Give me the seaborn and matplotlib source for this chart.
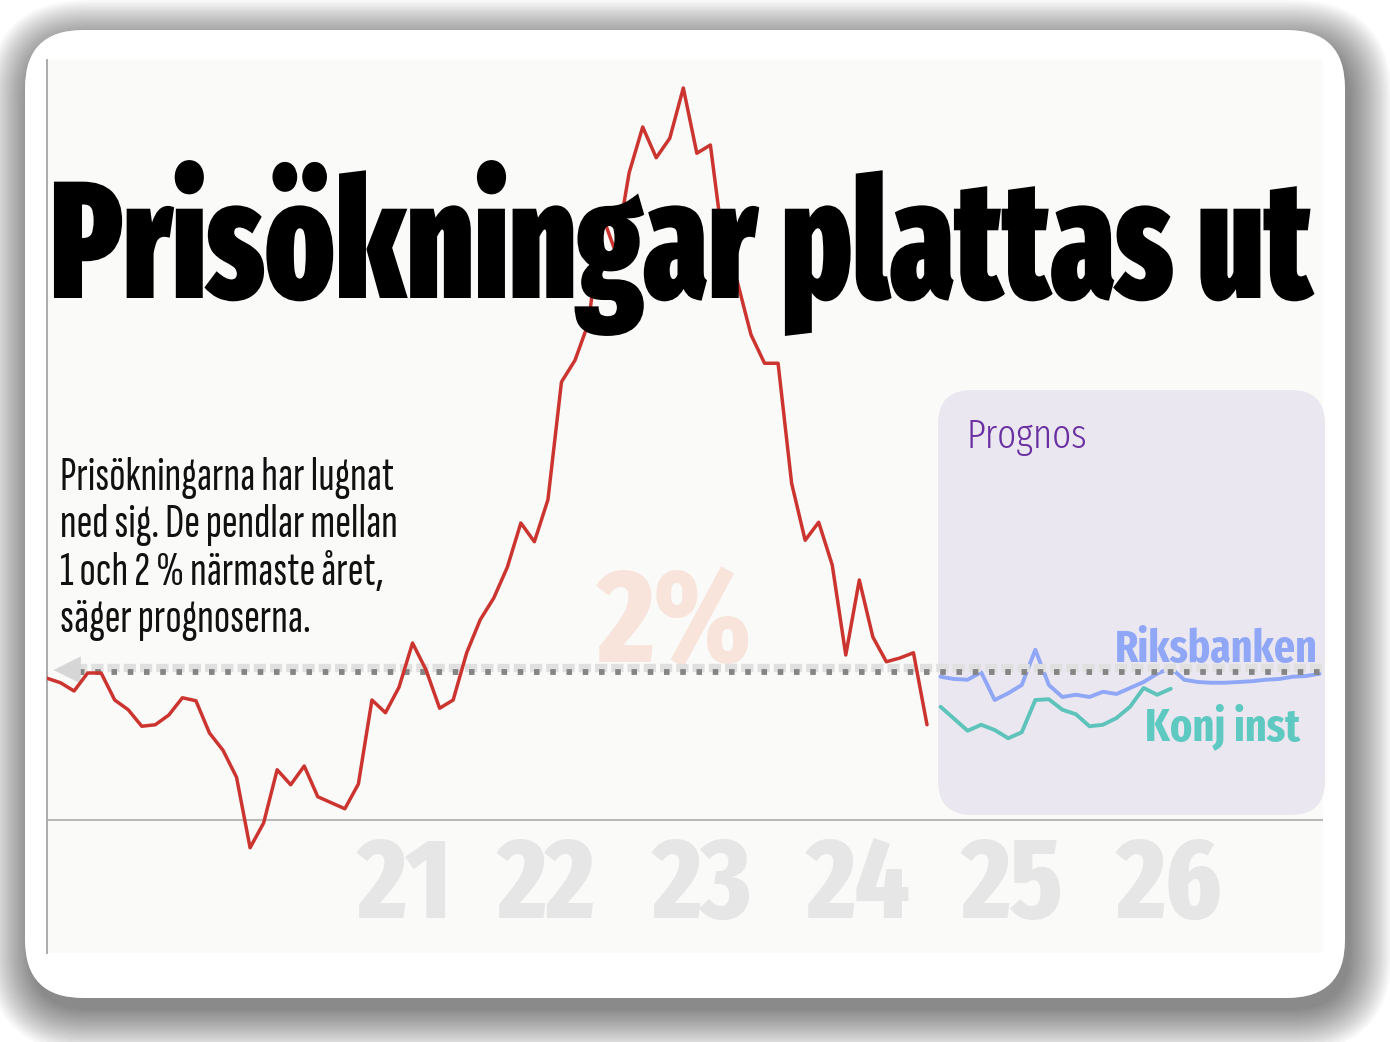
import matplotlib
matplotlib.use("Agg")
import matplotlib.pyplot as plt
import matplotlib.transforms as mtransforms
import pandas as pd
import seaborn as sns
from matplotlib.patches import FancyBboxPatch
from matplotlib.patheffects import AbstractPathEffect

# KPIF-style inflation, monthly, %
inflation = [
    1.89, 1.83, 1.72, 1.96, 1.96, 1.60, 1.47, 1.25, 1.27, 1.40, 1.63, 1.59,
    1.16, 0.93, 0.57, -0.37, -0.04, 0.67, 0.47, 0.72, 0.31, 0.23, 0.15, 0.48,
    1.60, 1.43, 1.77, 2.36, 2.00, 1.49, 1.60, 2.23, 2.67, 2.96, 3.37, 3.96,
    3.71, 4.27, 5.84, 6.13, 6.63, 8.07, 7.57, 8.63, 9.24, 8.83, 9.09, 9.76,
    8.89, 9.00, 7.60, 7.17, 6.47, 6.09, 6.09, 4.49, 3.73, 3.97, 3.40, 2.20,
    3.20, 2.44, 2.11, 2.16, 2.23, 1.27,
]
riksbanken = [
    1.91, 1.88, 1.87, 1.97, 1.60, 1.69, 1.80, 2.27, 1.80, 1.64, 1.67, 1.64,
    1.71, 1.68, 1.76, 1.84, 1.95, 2.03, 1.87, 1.84, 1.83, 1.83, 1.84, 1.85,
    1.87, 1.88, 1.91, 1.92, 1.95,
]
konj_inst = [
    1.51, 1.35, 1.19, 1.27, 1.20, 1.09, 1.17, 1.60, 1.61, 1.47, 1.41, 1.25,
    1.27, 1.36, 1.51, 1.76, 1.67, 1.75,
]
forecast_start = len(inflation)
target = 2.0

year_labels = ["21", "22", "23", "24", "25", "26"]
year_positions = [26.4, 36.9, 48.4, 59.9, 71.3, 82.9]

title = "Prisökningar plattas ut"
body_lines = [
    "Prisökningarna har lugnat",
    "ned sig. De pendlar mellan",
    "1 och 2 % närmaste året,",
    "säger prognoserna.",
]

W, H, DPI = 1390, 1042, 100

sns.set_theme(style="white")
plt.rcParams["lines.scale_dashes"] = False
plt.rcParams["font.family"] = ["Fira Sans Extra Condensed", "DejaVu Sans"]

TITLE_FONT = ["Fira Sans Extra Condensed", "DejaVu Sans"]
BODY_FONT = ["Sofia Sans Extra Condensed", "Fira Sans Extra Condensed", "DejaVu Sans"]


class TallText(AbstractPathEffect):
    """Stretch glyphs vertically around a baseline (given in display pixels)."""

    def __init__(self, factor, baseline):
        super().__init__()
        self.factor = factor
        self.baseline = baseline

    def draw_path(self, renderer, gc, tpath, affine, rgbFace=None):
        stretch = (mtransforms.Affine2D().translate(0, -self.baseline)
                   .scale(1, self.factor).translate(0, self.baseline))
        renderer.draw_path(gc, tpath, affine + stretch, rgbFace)


fig = plt.figure(figsize=(W / DPI, H / DPI), dpi=DPI, facecolor="white")
inch = fig.dpi_scale_trans


def px(x, y):
    # pixel position from the top-left corner -> inches from bottom-left
    return x / DPI, (H - y) / DPI


def rounded(x0, y0, x1, y1, radius, **kw):
    left, bottom = px(x0, y1)
    return FancyBboxPatch(
        (left, bottom), (x1 - x0) / DPI, (y1 - y0) / DPI,
        boxstyle=f"round,pad=0,rounding_size={radius / DPI}",
        transform=inch, **kw,
    )


# card with soft drop shadow, heavier towards the bottom right
for k in range(20):
    grow = 2.2 * k
    fig.add_artist(rounded(25 + 5 - grow, 30 + 12 - grow, 1345 + 5 + grow, 998 + 12 + grow,
                           58 + grow, facecolor="black", edgecolor="none",
                           alpha=0.026, zorder=-5))
fig.add_artist(rounded(25, 30, 1345, 998, 58, facecolor="white", edgecolor="none", zorder=-4))

px_per_month = 880 / 65
ax = fig.add_axes([47 / W, 1 - 953 / H, 1276 / W, 893 / H])
ax.set_facecolor("#fafaf9")
ax.set_xlim(0, 1276 / px_per_month)
ax.set_ylim((820 - 953) / 75, (820 - 60) / 75)
for side in ("top", "right", "bottom"):
    ax.spines[side].set_visible(False)
ax.spines["left"].set_color("#ababab")
ax.spines["left"].set_linewidth(1.4)
ax.set_xticks([])
ax.set_yticks([])

# forecast box
ax.add_patch(rounded(938, 390, 1325, 815, 34, facecolor="#ebe7f0", edgecolor="none",
                     zorder=0.5, clip_on=False))

# big year labels and 2% watermark
for label, pos in zip(year_labels, year_positions):
    ax.text(pos, (820 - 918) / 75, label, ha="center", va="baseline", fontsize=82,
            fontweight=800, color="#e6e6e6", family=TITLE_FONT, zorder=1)
ax.text(46.4, target + 0.11, "2%", ha="center", va="baseline", fontsize=95,
        fontweight=800, color="#f8e4da", family=TITLE_FONT, zorder=1)

ax.axhline(0, color="#b9b9b9", lw=1.5, zorder=1.5)

hist = pd.DataFrame({"month": range(len(inflation)), "value": inflation})
rb = pd.DataFrame({"month": range(forecast_start, forecast_start + len(riksbanken)), "value": riksbanken})
ki = pd.DataFrame({"month": range(forecast_start, forecast_start + len(konj_inst)), "value": konj_inst})

sns.lineplot(data=rb, x="month", y="value", color="#8fa7f6", lw=2.8, ax=ax, zorder=1.8)
sns.lineplot(data=ki, x="month", y="value", color="#5ec4bb", lw=2.8, ax=ax, zorder=1.8)

# 3D-looking dotted 2 % line
band = ax.get_yaxis_transform() + mtransforms.ScaledTranslation(0, 2 / DPI, inch)
dots = ax.get_yaxis_transform() + mtransforms.ScaledTranslation(0, -2 / DPI, inch)
ax.plot([0.022, 1], [target, target], transform=band, color="#e0e0e0", lw=6,
        dashes=(8.8, 2.9), solid_capstyle="butt", zorder=2)
ax.plot([0.025, 1], [target, target], transform=dots, color="#858585", lw=4.2,
        dashes=(4.0, 7.7), zorder=2.1)
ax.annotate("", xy=(0.003, target), xytext=(0.03, target), xycoords=ax.get_yaxis_transform(),
            arrowprops=dict(arrowstyle="-|>,head_length=1.4,head_width=0.7", color="#d6d6d6",
                            lw=0, mutation_scale=14), zorder=2.2)

sns.lineplot(data=hist, x="month", y="value", color="#cc3430", lw=2.5, ax=ax, zorder=3)
ax.set_xlabel("")
ax.set_ylabel("")

# texts
fig.canvas.draw()
renderer = fig.canvas.get_renderer()


def fit_width(txt, width):
    bb = txt.get_window_extent(renderer)
    txt.set_fontsize(txt.get_fontsize() * width / bb.width)


t = fig.text(*px(50, 298), title, transform=inch, ha="left", va="baseline", fontsize=100,
             fontweight=900, color="black", family=TITLE_FONT, zorder=5)
fit_width(t, 1262)
t.set_path_effects([TallText(1.18, H - 298)])

body = []
for i, line in enumerate(body_lines):
    body.append(fig.text(*px(60, 490 + 47.3 * i), line, transform=inch, ha="left",
                         va="baseline", fontsize=30, color="#111111", family=BODY_FONT, zorder=5))
bb = body[1].get_window_extent(renderer)
scale = 338 / bb.width
for b in body:
    b.set_fontsize(b.get_fontsize() * scale)

p = fig.text(*px(966, 448), "Prognos", transform=inch, ha="left", va="baseline", fontsize=30,
             fontweight=300, color="#6a30a2", family=TITLE_FONT, zorder=5)
fit_width(p, 121)
r = fig.text(*px(1318, 662), "Riksbanken", transform=inch, ha="right", va="baseline", fontsize=30,
             fontweight=700, color="#8fa7f6", family=TITLE_FONT, zorder=5)
fit_width(r, 203)
k = fig.text(*px(1300, 740), "Konj inst", transform=inch, ha="right", va="baseline", fontsize=30,
             fontweight=700, color="#5ec9c1", family=TITLE_FONT, zorder=5)
fit_width(k, 155)

fig.savefig("out.png", dpi=DPI, facecolor="white")
